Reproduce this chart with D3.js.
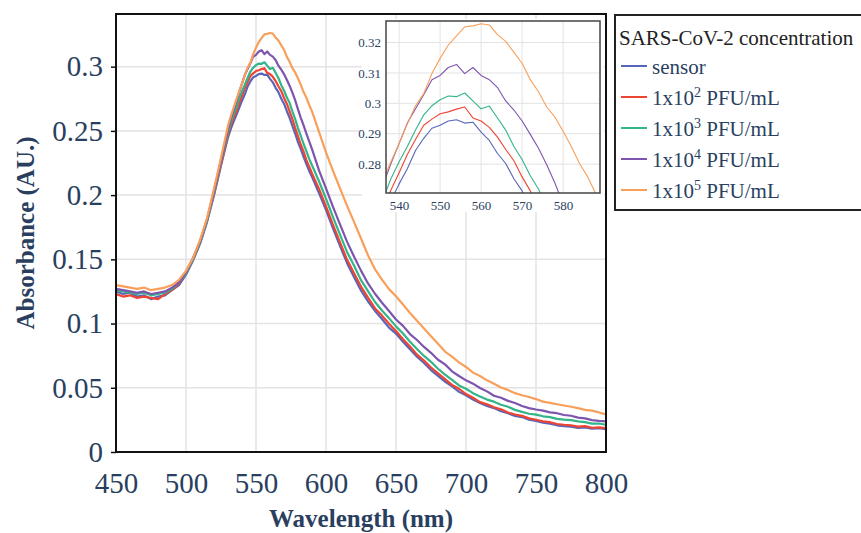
<!DOCTYPE html>
<html>
<head>
<meta charset="utf-8">
<title>SARS-CoV-2 absorbance</title>
<script src="https://d3js.org/d3.v7.min.js"></script>
<style>
body { margin: 0; background: #fff; }
text { font-family: "Liberation Serif", "Times New Roman", serif; }
</style>
</head>
<body>
<svg id="chart" width="861" height="533"></svg>
<script>
// wavelengths (nm) - denser around the peak so the inset shows the noise
var wavelength = [450,455,460,465,470,475,480,485,490,495,500,505,510,515,520,525,530,
  532,534,536,538,540,542,544,546,548,550,552,554,556,558,560,562,564,566,568,570,572,574,576,578,580,582,584,586,588,590,
  595,600,605,610,615,620,625,630,635,640,645,650,655,660,665,670,675,680,685,690,695,700,705,710,715,720,725,730,735,740,745,750,755,760,765,770,775,780,785,790,795,800];

var sensor = [0.125,0.123,0.124,0.121,0.122,0.119,0.121,0.122,0.126,0.130,0.138,0.149,0.162,0.179,0.200,0.223,0.245,
  0.2515,0.2572,0.2625,0.268,0.2735,0.2785,0.2845,0.2885,0.2918,0.2928,0.2942,0.2946,0.2935,0.2938,0.2905,0.2878,0.2835,0.2802,0.2752,0.2712,0.2655,0.2602,0.2538,0.2478,0.2412,0.2358,0.2298,0.2242,0.2188,0.2142,
  0.2015,0.1885,0.1742,0.1605,0.1472,0.1362,0.1258,0.1172,0.1098,0.1035,0.0968,0.0922,0.0858,0.0801,0.0742,0.0693,0.0638,0.0592,0.0548,0.0512,0.0468,0.0441,0.0408,0.0382,0.0358,0.0342,0.0318,0.0302,0.0281,0.0272,0.0251,0.0242,0.0228,0.0221,0.0208,0.0202,0.0198,0.0188,0.0192,0.0181,0.0185,0.0178];

var pfu1e2 = [0.123,0.121,0.122,0.120,0.121,0.120,0.119,0.123,0.126,0.131,0.139,0.150,0.163,0.180,0.201,0.224,0.247,
  0.2545,0.2598,0.2652,0.2715,0.2772,0.2832,0.2881,0.2928,0.2948,0.2966,0.2972,0.2981,0.2988,0.2952,0.2942,0.2921,0.2889,0.2848,0.2811,0.2758,0.2712,0.2652,0.2592,0.2522,0.2458,0.2392,0.2338,0.2272,0.2221,0.2168,
  0.2048,0.1912,0.1768,0.1632,0.1498,0.1392,0.1288,0.1202,0.1118,0.1062,0.0998,0.0942,0.0878,0.0822,0.0758,0.0712,0.0658,0.0612,0.0568,0.0522,0.0492,0.0451,0.0422,0.0388,0.0372,0.0348,0.0332,0.0308,0.0292,0.0281,0.0262,0.0251,0.0238,0.0232,0.0218,0.0212,0.0208,0.0198,0.0201,0.0189,0.0192,0.0186];

var pfu1e3 = [0.126,0.125,0.124,0.123,0.124,0.122,0.123,0.124,0.127,0.132,0.139,0.150,0.163,0.180,0.202,0.226,0.249,
  0.2565,0.2628,0.2682,0.2752,0.2808,0.2858,0.2912,0.2962,0.2992,0.3012,0.3024,0.3022,0.3034,0.3008,0.2982,0.2991,0.2952,0.2912,0.2858,0.2815,0.2762,0.2718,0.2652,0.2592,0.2522,0.2462,0.2398,0.2342,0.2282,0.2232,
  0.2108,0.1972,0.1828,0.1692,0.1558,0.1452,0.1338,0.1252,0.1168,0.1102,0.1042,0.0978,0.0922,0.0858,0.0802,0.0748,0.0702,0.0648,0.0602,0.0562,0.0518,0.0492,0.0458,0.0432,0.0408,0.0392,0.0368,0.0352,0.0328,0.0312,0.0298,0.0291,0.0278,0.0272,0.0258,0.0252,0.0248,0.0238,0.0232,0.0221,0.0222,0.0212];

var pfu1e4 = [0.127,0.126,0.125,0.124,0.125,0.123,0.124,0.125,0.128,0.132,0.140,0.151,0.164,0.181,0.203,0.227,0.251,
  0.2595,0.2662,0.2728,0.2802,0.2868,0.2935,0.2982,0.3028,0.3078,0.3092,0.3118,0.3128,0.3098,0.3118,0.3092,0.3078,0.3052,0.3008,0.2978,0.2942,0.2898,0.2852,0.2798,0.2738,0.2668,0.2602,0.2542,0.2478,0.2418,0.2358,
  0.2192,0.2052,0.1908,0.1772,0.1638,0.1522,0.1412,0.1312,0.1232,0.1162,0.1098,0.1032,0.0982,0.0918,0.0872,0.0818,0.0772,0.0718,0.0682,0.0628,0.0592,0.0558,0.0532,0.0498,0.0472,0.0438,0.0422,0.0398,0.0382,0.0358,0.0342,0.0331,0.0322,0.0308,0.0302,0.0288,0.0282,0.0268,0.0262,0.0248,0.0242,0.0238];

var pfu1e5 = [0.130,0.129,0.128,0.127,0.128,0.126,0.127,0.128,0.130,0.134,0.141,0.151,0.165,0.182,0.205,0.229,0.254,
  0.2615,0.268,0.2745,0.2808,0.2868,0.2932,0.2992,0.3032,0.3098,0.3148,0.3192,0.3222,0.3252,0.3255,0.3262,0.3258,0.3226,0.3204,0.3168,0.3132,0.3078,0.3038,0.2988,0.2955,0.2908,0.2858,0.2802,0.2758,0.2702,0.2652,
  0.2492,0.2332,0.2188,0.2052,0.1918,0.1792,0.1662,0.1532,0.1422,0.1342,0.1268,0.1212,0.1148,0.1082,0.1022,0.0962,0.0902,0.0842,0.0782,0.0742,0.0698,0.0662,0.0618,0.0592,0.0558,0.0532,0.0502,0.0482,0.0458,0.0442,0.0428,0.0412,0.0392,0.0382,0.0372,0.0362,0.0352,0.0342,0.0328,0.0322,0.0308,0.0292];

var seriesLabels = [["sensor", ""], ["1x10", "2"], ["1x10", "3"], ["1x10", "4"], ["1x10", "5"]];
var seriesColors = ["#5965b8", "#ee4532", "#33b48a", "#7d55ae", "#f8a05b"];
var legendTitle = "SARS-CoV-2 concentration";

var xTicks = [450, 500, 550, 600, 650, 700, 750, 800];
var yTicks = [0, 0.05, 0.1, 0.15, 0.2, 0.25, 0.3];
var insetXTicks = [540, 550, 560, 570, 580];
var insetYTicks = [0.28, 0.29, 0.3, 0.31, 0.32];

var allSeries = [sensor, pfu1e2, pfu1e3, pfu1e4, pfu1e5];
var navy = "#2a3f5f";
var gridColor = "#e3e3e3";

var svg = d3.select("#chart");

// ---- main plot ----
var x = d3.scaleLinear().domain([450, 800]).range([116, 606]);
var y = d3.scaleLinear().domain([0, 0.341]).range([452, 14]);

svg.append("clipPath").attr("id", "mainClip")
  .append("rect").attr("x", 116).attr("y", 14).attr("width", 490).attr("height", 438);

var grid = svg.append("g");
grid.selectAll(".gx").data(xTicks.slice(1, -1)).enter().append("line")
  .attr("x1", function(d) { return x(d); }).attr("x2", function(d) { return x(d); })
  .attr("y1", 14).attr("y2", 452)
  .attr("stroke", gridColor).attr("stroke-width", 1.5);
grid.selectAll(".gy").data(yTicks.slice(1)).enter().append("line")
  .attr("x1", 116).attr("x2", 606)
  .attr("y1", function(d) { return y(d); }).attr("y2", function(d) { return y(d); })
  .attr("stroke", gridColor).attr("stroke-width", 1.5);

var line = d3.line()
  .x(function(d, i) { return x(wavelength[i]); })
  .y(function(d) { return y(d); });

svg.append("g").attr("clip-path", "url(#mainClip)")
  .selectAll("path").data(allSeries).enter().append("path")
  .attr("d", line)
  .attr("fill", "none")
  .attr("stroke", function(d, i) { return seriesColors[i]; })
  .attr("stroke-width", 2.2)
  .attr("stroke-linejoin", "round");

// y axis
var yAxis = svg.append("g").attr("transform", "translate(116,0)")
  .call(d3.axisLeft(y).tickValues(yTicks).tickSize(5).tickPadding(8).tickFormat(d3.format("~g")));
yAxis.select(".domain").remove();
yAxis.selectAll("line").attr("stroke", "#111").attr("stroke-width", 1.5);
yAxis.selectAll("text").attr("fill", navy).style("font-size", "29px");

// x axis
var xAxis = svg.append("g").attr("transform", "translate(0,452)")
  .call(d3.axisBottom(x).tickValues(xTicks).tickSize(0).tickPadding(20));
xAxis.select(".domain").remove();
xAxis.selectAll("text").attr("fill", navy).style("font-size", "29px");

svg.append("rect").attr("x", 116).attr("y", 14).attr("width", 490).attr("height", 438)
  .attr("fill", "none").attr("stroke", "#111").attr("stroke-width", 2);

svg.append("text").attr("x", 361).attr("y", 527).attr("text-anchor", "middle")
  .attr("fill", navy).style("font-size", "25px").style("font-weight", "bold")
  .text("Wavelength (nm)");
svg.append("text").attr("transform", "translate(34,233) rotate(-90)").attr("text-anchor", "middle")
  .attr("fill", navy).style("font-size", "25px").style("font-weight", "bold")
  .text("Absorbance (AU.)");

// ---- inset ----
var ix = d3.scaleLinear().domain([536.8, 589]).range([386, 600]);
var iy = d3.scaleLinear().domain([0.2705, 0.3271]).range([193, 21]);

svg.append("rect").attr("x", 362).attr("y", 19).attr("width", 242).attr("height", 193).attr("fill", "#fff");

svg.append("clipPath").attr("id", "insetClip")
  .append("rect").attr("x", 386).attr("y", 21).attr("width", 214).attr("height", 172);

var igrid = svg.append("g");
igrid.selectAll(".igx").data(insetXTicks).enter().append("line")
  .attr("x1", function(d) { return ix(d); }).attr("x2", function(d) { return ix(d); })
  .attr("y1", 21).attr("y2", 193)
  .attr("stroke", gridColor).attr("stroke-width", 1);
igrid.selectAll(".igy").data(insetYTicks).enter().append("line")
  .attr("x1", 386).attr("x2", 600)
  .attr("y1", function(d) { return iy(d); }).attr("y2", function(d) { return iy(d); })
  .attr("stroke", gridColor).attr("stroke-width", 1);

var iline = d3.line()
  .x(function(d, i) { return ix(wavelength[i]); })
  .y(function(d) { return iy(d); });

svg.append("g").attr("clip-path", "url(#insetClip)")
  .selectAll("path").data(allSeries).enter().append("path")
  .attr("d", iline)
  .attr("fill", "none")
  .attr("stroke", function(d, i) { return seriesColors[i]; })
  .attr("stroke-width", 1.1)
  .attr("stroke-linejoin", "round");

var iyAxis = svg.append("g").attr("transform", "translate(386,0)")
  .call(d3.axisLeft(iy).tickValues(insetYTicks).tickSize(0).tickPadding(5).tickFormat(d3.format("~g")));
iyAxis.select(".domain").remove();
iyAxis.selectAll("text").attr("fill", navy).style("font-size", "13px");

var ixAxis = svg.append("g").attr("transform", "translate(0,193)")
  .call(d3.axisBottom(ix).tickValues(insetXTicks).tickSize(0).tickPadding(8));
ixAxis.select(".domain").remove();
ixAxis.selectAll("text").attr("fill", navy).style("font-size", "13px");

svg.append("rect").attr("x", 386).attr("y", 21).attr("width", 214).attr("height", 172)
  .attr("fill", "none").attr("stroke", "#444").attr("stroke-width", 1.5);

// ---- legend ----
var legend = svg.append("g");
legend.append("rect").attr("x", 615).attr("y", 15).attr("width", 260).attr("height", 195)
  .attr("fill", "#fff").attr("stroke", "#222").attr("stroke-width", 2);
legend.append("text").attr("x", 619).attr("y", 45).attr("fill", "#222")
  .style("font-size", "21px").text(legendTitle);

seriesLabels.forEach(function(lab, i) {
  var base = 74 + i * 31;
  legend.append("line").attr("x1", 621).attr("x2", 647)
    .attr("y1", base - 8).attr("y2", base - 8)
    .attr("stroke", seriesColors[i]).attr("stroke-width", 2);
  var t = legend.append("text").attr("x", 652).attr("y", base).attr("fill", navy)
    .style("font-size", "21px");
  t.append("tspan").text(lab[0]);
  if (lab[1]) {
    t.append("tspan").attr("dy", -8).style("font-size", "14px").text(lab[1]);
    t.append("tspan").attr("dy", 8).text(" PFU/mL");
  }
});
</script>
</body>
</html>
